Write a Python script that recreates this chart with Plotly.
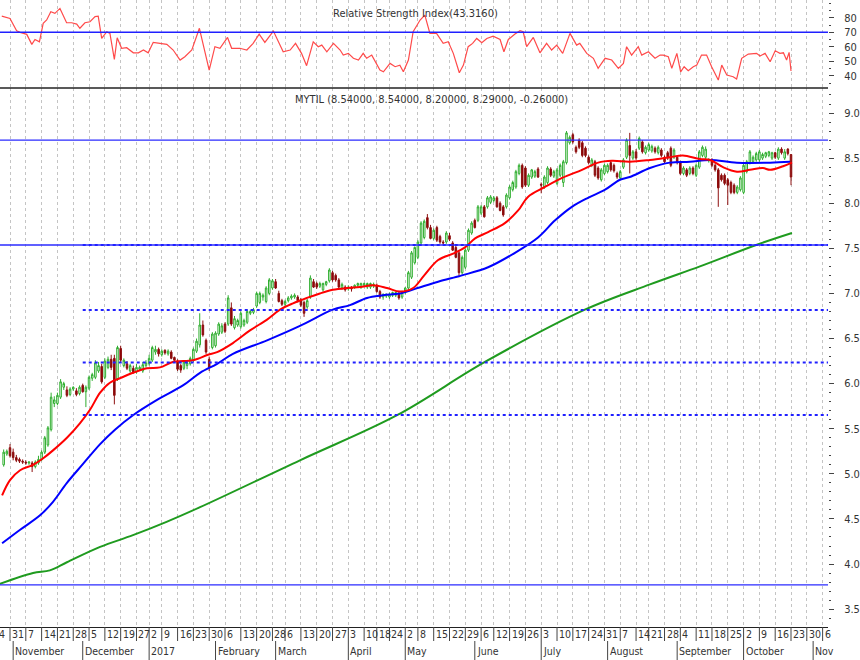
import plotly.graph_objects as go

# ---------------- data ----------------
first_day = -2  # trading-day index of first candle (0 = 31 Oct 2016)

open_ = [5.10,5.22,5.29,5.24,5.18,5.16,5.14,5.13,5.12,5.12,
 5.08,5.12,5.16,5.24,5.32,5.49,5.78,5.78,5.85,5.96,
 5.93,5.88,5.94,5.92,5.89,5.98,5.91,5.95,6.06,6.07,
 6.14,6.19,6.07,6.18,6.27,6.28,6.05,6.39,6.20,6.22,
 6.14,6.17,6.13,6.16,6.14,6.20,6.22,6.26,6.35,6.38,
 6.32,6.37,6.33,6.35,6.29,6.25,6.20,6.17,6.20,6.22,
 6.26,6.36,6.43,6.65,6.48,6.27,6.40,6.42,6.55,6.57,
 6.66,6.66,6.84,6.62,6.65,6.63,6.65,6.68,6.78,6.79,
 6.86,6.90,6.96,6.91,7.00,7.06,7.13,7.00,6.92,6.88,
 6.92,6.95,6.96,6.96,6.93,6.90,6.85,6.96,7.13,7.11,
 7.08,7.04,7.10,7.14,7.23,7.20,7.15,7.06,7.07,7.05,
 7.07,7.07,7.09,7.07,7.09,7.07,7.07,7.08,7.09,7.02,
 6.96,6.97,6.96,6.98,6.98,7.00,6.96,7.01,7.06,7.18,
 7.34,7.40,7.56,7.62,7.84,7.73,7.61,7.73,7.63,7.57,
 7.57,7.64,7.56,7.51,7.45,7.23,7.29,7.48,7.67,7.81,
 7.81,7.89,7.96,7.96,8.01,8.03,8.06,8.00,7.96,7.96,
 8.06,8.15,8.18,8.33,8.42,8.39,8.20,8.29,8.30,8.38,
 8.21,8.18,8.23,8.38,8.30,8.22,8.31,8.23,8.45,8.67,
 8.76,8.62,8.70,8.67,8.61,8.51,8.42,8.46,8.39,8.26,
 8.33,8.35,8.45,8.42,8.33,8.28,8.40,8.51,8.64,8.50,
 8.57,8.61,8.68,8.56,8.59,8.58,8.61,8.56,8.59,8.51,
 8.56,8.61,8.51,8.51,8.45,8.33,8.37,8.33,8.39,8.31,
 8.40,8.53,8.51,8.47,8.48,8.42,8.37,8.31,8.31,8.26,
 8.23,8.20,8.12,8.15,8.12,8.35,8.45,8.46,8.48,8.48,
 8.50,8.52,8.53,8.50,8.56,8.50,8.60,8.50,8.60,8.54]

high = [5.27,5.27,5.33,5.28,5.21,5.18,5.16,5.15,5.14,5.14,
 5.15,5.20,5.26,5.42,5.53,5.90,5.86,5.90,6.05,6.02,
 5.97,5.96,5.97,5.95,5.98,6.00,5.98,6.09,6.12,6.26,
 6.24,6.22,6.28,6.30,6.32,6.32,6.42,6.42,6.28,6.25,
 6.22,6.20,6.22,6.20,6.24,6.26,6.32,6.42,6.42,6.40,
 6.38,6.38,6.38,6.37,6.30,6.27,6.22,6.26,6.26,6.30,
 6.40,6.50,6.78,6.70,6.50,6.30,6.57,6.58,6.68,6.67,
 6.68,6.98,6.90,6.75,6.72,6.80,6.72,6.82,6.82,6.84,
 7.02,7.02,7.00,7.08,7.17,7.16,7.16,7.03,6.94,6.93,
 6.97,6.99,7.00,6.98,6.95,6.92,6.94,7.20,7.16,7.13,
 7.13,7.12,7.14,7.28,7.25,7.22,7.17,7.12,7.09,7.09,
 7.08,7.10,7.12,7.12,7.12,7.12,7.12,7.12,7.11,7.04,
 7.00,7.00,7.01,7.02,7.02,7.02,7.03,7.07,7.25,7.47,
 7.52,7.59,7.80,7.82,7.88,7.76,7.72,7.75,7.65,7.59,
 7.69,7.67,7.58,7.53,7.47,7.42,7.50,7.72,7.80,7.83,
 7.98,7.98,7.98,8.08,8.09,8.08,8.08,8.02,7.98,8.11,
 8.20,8.25,8.37,8.44,8.44,8.41,8.33,8.38,8.37,8.40,
 8.23,8.31,8.41,8.40,8.37,8.39,8.44,8.48,8.80,8.75,
 8.78,8.64,8.72,8.69,8.63,8.53,8.50,8.48,8.41,8.39,
 8.44,8.44,8.47,8.44,8.35,8.37,8.50,8.72,8.78,8.59,
 8.60,8.74,8.70,8.64,8.67,8.65,8.63,8.64,8.61,8.53,
 8.58,8.63,8.61,8.53,8.47,8.41,8.39,8.41,8.41,8.44,
 8.59,8.64,8.63,8.50,8.50,8.44,8.39,8.33,8.33,8.28,
 8.25,8.22,8.20,8.30,8.44,8.48,8.59,8.53,8.57,8.59,
 8.56,8.57,8.58,8.57,8.57,8.62,8.62,8.60,8.61,8.54]

low = [5.08,5.20,5.18,5.15,5.13,5.12,5.11,5.10,5.10,5.02,
 5.06,5.10,5.14,5.22,5.30,5.47,5.74,5.76,5.83,5.93,
 5.85,5.86,5.92,5.86,5.87,5.90,5.74,5.93,6.03,6.05,
 6.12,6.00,6.05,6.16,6.15,5.77,6.03,6.24,6.18,6.15,
 6.12,6.11,6.11,6.14,6.12,6.18,6.20,6.24,6.32,6.30,
 6.30,6.32,6.31,6.27,6.24,6.14,6.12,6.15,6.16,6.20,
 6.24,6.34,6.40,6.52,6.33,6.14,6.38,6.40,6.53,6.55,
 6.56,6.64,6.64,6.60,6.63,6.61,6.63,6.66,6.76,6.77,
 6.84,6.88,6.92,6.89,6.98,7.04,7.05,6.90,6.86,6.86,
 6.90,6.93,6.94,6.90,6.85,6.74,6.83,6.94,7.06,7.05,
 7.06,7.02,7.08,7.12,7.13,7.13,7.05,7.04,7.02,7.03,
 7.02,7.05,7.07,7.05,7.07,7.05,7.05,7.06,7.01,6.94,
 6.93,6.95,6.94,6.96,6.96,6.93,6.94,6.99,7.04,7.16,
 7.32,7.38,7.54,7.60,7.71,7.60,7.59,7.57,7.55,7.54,
 7.55,7.58,7.47,7.39,7.18,7.21,7.27,7.46,7.65,7.72,
 7.79,7.87,7.84,7.94,7.99,8.01,7.95,7.91,7.85,7.94,
 8.04,8.13,8.16,8.31,8.16,8.18,8.18,8.27,8.28,8.28,
 8.11,8.16,8.21,8.29,8.28,8.20,8.29,8.18,8.43,8.65,
 8.66,8.55,8.60,8.51,8.51,8.43,8.40,8.29,8.26,8.24,
 8.31,8.33,8.35,8.34,8.27,8.26,8.38,8.49,8.33,8.48,
 8.48,8.59,8.55,8.54,8.57,8.56,8.55,8.54,8.51,8.44,
 8.48,8.40,8.49,8.43,8.31,8.31,8.29,8.31,8.31,8.29,
 8.38,8.51,8.49,8.45,8.40,8.35,7.96,8.24,8.20,7.98,
 8.10,8.10,8.10,8.13,8.10,8.33,8.43,8.44,8.46,8.46,
 8.48,8.50,8.51,8.48,8.49,8.48,8.54,8.48,8.53,8.20]

close = [5.24,5.25,5.20,5.18,5.15,5.14,5.13,5.12,5.13,5.08,
 5.13,5.16,5.24,5.40,5.51,5.85,5.82,5.87,6.02,6.00,
 5.87,5.94,5.96,5.88,5.96,5.91,5.96,6.07,6.10,6.23,
 6.20,6.02,6.25,6.27,6.18,5.87,6.40,6.26,6.26,6.17,
 6.20,6.13,6.18,6.18,6.21,6.23,6.28,6.40,6.38,6.33,
 6.36,6.34,6.36,6.28,6.26,6.16,6.15,6.24,6.23,6.28,
 6.38,6.47,6.65,6.54,6.35,6.18,6.55,6.56,6.66,6.64,
 6.58,6.95,6.66,6.72,6.70,6.78,6.70,6.80,6.80,6.82,
 7.00,7.00,6.98,7.06,7.15,7.14,7.06,6.91,6.88,6.91,
 6.95,6.97,6.98,6.92,6.87,6.78,6.92,7.17,7.07,7.07,
 7.11,7.11,7.13,7.26,7.15,7.15,7.07,7.10,7.04,7.07,
 7.05,7.09,7.11,7.11,7.11,7.11,7.11,7.10,7.02,6.96,
 6.99,6.99,6.99,7.01,7.01,6.95,7.01,7.06,7.23,7.45,
 7.51,7.57,7.78,7.80,7.73,7.61,7.70,7.59,7.57,7.56,
 7.67,7.60,7.48,7.40,7.23,7.40,7.48,7.70,7.78,7.73,
 7.96,7.96,7.85,8.06,8.07,8.06,7.96,7.92,7.87,8.09,
 8.18,8.23,8.35,8.42,8.18,8.20,8.31,8.37,8.35,8.29,
 8.20,8.29,8.39,8.31,8.35,8.37,8.42,8.46,8.78,8.73,
 8.68,8.57,8.62,8.53,8.53,8.45,8.48,8.31,8.28,8.37,
 8.42,8.42,8.37,8.36,8.29,8.35,8.48,8.70,8.53,8.57,
 8.50,8.72,8.57,8.62,8.65,8.63,8.57,8.62,8.53,8.46,
 8.50,8.42,8.59,8.45,8.33,8.39,8.31,8.39,8.33,8.42,
 8.57,8.62,8.60,8.48,8.42,8.37,8.17,8.26,8.22,8.20,
 8.12,8.12,8.18,8.28,8.42,8.46,8.57,8.51,8.55,8.57,
 8.54,8.56,8.57,8.56,8.51,8.60,8.56,8.57,8.55,8.29]

# moving averages: (trading-day index, value)
ma_red_day = [-2.5,0,3.2,7.3,10.4,13.6,18,22.1,25.3,28.5,31.6,34.8,38.9,43.3,47.4,51.5,57.9,62.6,65.5,70.5,75.9,81.3,85.4,89.5,93.9,98,102.1,106.6,110.7,114.8,119.2,123.3,127.5,131,135.4,140.7,143.9,147.1,151.2,156.5,160.7,163.8,169.2,174.6,180.9,186,190.4,196,202.4,208.7,212.8,218.2,221.4,225.5,229.9,234,238.1,240.4,244.5,247.3]
ma_red = [4.76,4.93,5.04,5.10,5.17,5.26,5.40,5.56,5.71,5.90,6.01,6.06,6.12,6.17,6.18,6.24,6.26,6.32,6.35,6.45,6.59,6.71,6.82,6.89,6.95,7.00,7.04,7.06,7.07,7.09,7.06,7.02,7.06,7.20,7.37,7.45,7.51,7.61,7.68,7.78,7.92,8.07,8.18,8.28,8.37,8.45,8.47,8.46,8.48,8.51,8.53,8.49,8.48,8.40,8.35,8.37,8.39,8.37,8.41,8.45]

ma_blue_day = [-2.5,3.2,9.5,13.6,18,23.1,28.5,33.2,38.9,46.5,54.7,60.1,65.5,70.5,81.3,91.7,102.1,107.5,112.9,118,123.3,128.1,135.4,142.9,151.2,159.7,167,172.4,177.7,182.8,188.2,192.9,196,202.4,208.7,215,221.4,229.9,240.4,246.7]
ma_blue = [4.23,4.38,4.54,4.69,4.90,5.11,5.33,5.49,5.65,5.82,5.98,6.12,6.22,6.33,6.48,6.64,6.82,6.87,6.95,6.98,7.00,7.05,7.13,7.20,7.29,7.45,7.62,7.81,7.96,8.06,8.15,8.26,8.29,8.39,8.45,8.46,8.48,8.45,8.45,8.46]

ma_green_day = [-3.2,7.3,12.6,18,28.5,38.9,49.7,60.1,91.7,122.4,150.2,181.8,202.4,218.2,236.2,247.3]
ma_green = [3.78,3.90,3.93,4.02,4.19,4.32,4.47,4.63,5.15,5.65,6.24,6.82,7.10,7.30,7.54,7.67]

rsi_day = [-2.6,0,2.1,3.2,5.3,6.9,7.9,9.3,10.5,11.6,12.9,14.2,15.8,17.9,19.5,21.1,22.1,23.7,25.3,26.9,
 27.9,29,30.6,31.6,33,33.9,35.3,36.9,39,40.6,42.2,43.7,45.3,47.4,49.6,51.6,53.8,55.3,57.5,59.9,
 61.7,63,64.8,66.4,68.8,70.1,72.7,74.9,76.9,78.8,80.6,82,83.3,86.4,88.6,90.3,92.2,93.8,95.9,97.5,
 98.6,100.2,102.3,104.4,105.4,107,108.6,110.2,111.7,112.8,114.4,117,118.1,120.2,121.8,123.3,124.4,126,127.5,129.7,
 131.2,132.8,134.9,137,138.6,140.2,142.1,143.4,144.9,146.3,147.6,149.2,150.8,152.8,155,156.2,157.6,159.7,161.3,162.3,
 163.4,165.5,167.6,169.7,171.3,172.9,174.8,177.1,179.2,180.2,182.4,184.5,186,188.2,190.3,192.4,194,195,196.6,198.7,
 199.8,201.9,204,205.6,206.6,208.2,209.3,210.9,212.1,213.2,214.5,216.1,217.2,218.7,220.3,221.9,224,225.1,226.7,228.7,
 229.8,231.4,233.5,236.1,237.2,238.8,240.4,242,243.5,244.6,245.6,246.4,247]
rsi = [81.2,79.6,71.1,70,68.6,61.7,65.1,63.5,76.2,78.5,84.2,83.1,86.5,76.6,76.6,75.7,72.8,76.6,77.3,80.8,
 81.2,65.8,70.4,69.3,51.4,66.3,59.0,59.4,55.9,55.9,57.8,55.9,63.1,62.4,61.7,57.8,50.9,53.2,57.8,72.8,
 55.5,44.0,60.1,59.0,66.5,59.0,59.0,57.8,62.4,68.8,63.1,67.0,70.9,56.6,57.8,62.4,55.5,47.0,63.5,60.1,
 61.2,56.6,62.4,57.8,54.3,55.5,52.1,50.9,55.5,52.1,54.3,44.0,42.8,48.6,46.3,47.4,42.8,50.9,70.4,78.5,
 81.9,69.3,69.3,62.4,63.5,55.5,42.1,47.4,60.1,62.4,65.8,62.8,65.8,67.4,65.1,56.6,65.1,68.8,71.1,70.4,
 60.1,66.5,55.9,62.4,57.8,61.2,55.5,69.3,61.2,62.4,55.5,52.1,45.2,52.1,50.9,45.2,48.6,60.1,54.3,60.1,
 54.3,56.6,52.1,54.3,54.3,53.2,45.2,55.5,42.8,46.3,43.5,46.3,47.4,54.3,54.3,46.3,37.1,47.4,40.6,39.4,
 37.8,52.1,55.0,55.5,53.7,55.5,49.7,57.3,55.5,55.9,50.9,56.2,43.3]

# Fibonacci levels (high / low and retracements) and RSI guide
fib_solid = [8.70, 7.537, 3.77]
fib_dotted = [7.537, 6.817, 6.235, 5.653]
fib_dotted_start = 23
rsi_guide = 70

# axis labels (trading-day index of each week start / month start)
week_idx = [-4,0,5,10,15,20,25,30,35,40,44,48,53,58,63,68,73,78,83,87,92,97,102,107,112,116,120,125,129,134,139,144,
            149,153,158,163,168,173,178,183,188,193,198,202,207,212,217,222,227,232,237,242,247,252,257]
week_lbl = ["24","31","7","14","21","28","5","12","19","27","2","9","16","23","30","6","13","20","28","6","13","20","27",
            "3","10","18","24","2","8","15","22","29","6","12","19","26","3","10","17","24","31","7","14","21","28",
            "4","11","18","25","2","9","16","23","30","6"]
month_idx = [1,23,44,65,84,107,125,147,168,189,211,232,254]
month_lbl = ["November","December","2017","February","March","April","May","June","July","August","September","October","Nov"]

title_rsi = "Relative Strength Index(43.3160)"
title_main = "MYTIL (8.54000, 8.54000, 8.20000, 8.29000, -0.26000)"

assert len(open_) == len(high) == len(low) == len(close) == 250
assert len(rsi_day) == len(rsi)
day = list(range(first_day, first_day + len(close)))

# ---------------- figure ----------------
FONT = "DejaVu Sans Condensed, Liberation Sans Narrow, Arial Narrow, Roboto Condensed, Liberation Sans, sans-serif"
XMIN, XMAX = -3.163, 258.7
SPLIT = 0.8596

fig = go.Figure()
fig.add_trace(go.Candlestick(
    x=day, open=open_, high=high, low=low, close=close,
    increasing=dict(line=dict(color="#2fae2f", width=1), fillcolor="#ffffff"),
    decreasing=dict(line=dict(color="#8e1010", width=1), fillcolor="#8b0000"),
    whiskerwidth=0, hoverinfo="skip", xaxis="x", yaxis="y"))
fig.add_trace(go.Scatter(x=ma_green_day, y=ma_green, mode="lines", line=dict(color="#1f9b1f", width=2, shape="spline"), xaxis="x", yaxis="y"))
fig.add_trace(go.Scatter(x=ma_blue_day, y=ma_blue, mode="lines", line=dict(color="#0000ff", width=2, shape="spline"), xaxis="x", yaxis="y"))
fig.add_trace(go.Scatter(x=ma_red_day, y=ma_red, mode="lines", line=dict(color="#ff0000", width=2, shape="spline"), xaxis="x", yaxis="y"))
fig.add_trace(go.Scatter(x=rsi_day, y=rsi, mode="lines", line=dict(color="#ff4a4a", width=1.2), xaxis="x", yaxis="y2"))

shapes = []
for lv in fib_solid:
    shapes.append(dict(type="line", xref="x", yref="y", x0=XMIN, x1=XMAX, y0=lv, y1=lv,
                       line=dict(color="#2b2bff", width=1.3)))
for lv in fib_dotted:
    shapes.append(dict(type="line", xref="x", yref="y", x0=fib_dotted_start, x1=XMAX, y0=lv, y1=lv,
                       line=dict(color="#2020ff", width=2, dash="dot")))
shapes.append(dict(type="line", xref="x", yref="y2", x0=XMIN, x1=XMAX, y0=rsi_guide, y1=rsi_guide,
                   line=dict(color="#2020ff", width=1.5)))
# panel separator
shapes.append(dict(type="line", xref="paper", yref="paper", x0=0, x1=1, y0=SPLIT, y1=SPLIT,
                   line=dict(color="#222222", width=1.5)))
# bottom date scale
ROW1 = -14 / 627
ROW2 = -33 / 627
for i in week_idx:
    if i < XMIN:
        continue
    shapes.append(dict(type="line", xref="x", yref="paper", x0=i, x1=i, y0=0, y1=ROW1,
                       line=dict(color="#444444", width=1)))
for i in month_idx:
    shapes.append(dict(type="line", xref="x", yref="paper", x0=i, x1=i, y0=ROW1, y1=ROW2,
                       line=dict(color="#444444", width=1)))

lab_font = dict(family=FONT, size=10.5, color="#333333")
annotations = []
for i, t in zip(week_idx, week_lbl):
    if i < XMIN:
        annotations.append(dict(x=XMIN + 0.05, y=-7 / 627, xref="x", yref="paper", text=t, showarrow=False,
                                xanchor="left", yanchor="middle", xshift=-9, font=lab_font))
    else:
        annotations.append(dict(x=i, y=-7 / 627, xref="x", yref="paper", text=t, showarrow=False,
                                xanchor="left", yanchor="middle", xshift=0, font=lab_font))
for i, t in zip(month_idx, month_lbl):
    annotations.append(dict(x=i, y=-24 / 627, xref="x", yref="paper", text=t, showarrow=False,
                            xanchor="left", yanchor="middle", xshift=0, font=lab_font))
title_font = dict(family=FONT, size=11, color="#333333")
annotations.append(dict(x=415 / 828, y=(627 - 13) / 627, xref="paper", yref="paper", text=title_rsi,
                        showarrow=False, xanchor="center", yanchor="middle", font=title_font))
annotations.append(dict(x=431 / 828, y=(627 - 100) / 627, xref="paper", yref="paper", text=title_main,
                        showarrow=False, xanchor="center", yanchor="middle", font=title_font))

tickfont = dict(family=FONT, size=11, color="#333333")
fig.update_layout(
    width=860, height=660, margin=dict(l=0, r=32, t=0, b=33),
    paper_bgcolor="white", plot_bgcolor="white", showlegend=False,
    xaxis=dict(range=[XMIN, XMAX], domain=[0, 1], anchor="y", showticklabels=False, ticks="",
               tickmode="array", tickvals=[v for v in week_idx if v >= 0],
               showgrid=True, gridcolor="#c4c4c4", gridwidth=1, griddash="3px,3px",
               zeroline=False, showline=True, linecolor="#222222", linewidth=1,
               rangeslider=dict(visible=False), fixedrange=True),
    yaxis=dict(domain=[0, SPLIT], range=[3.302, 9.277], side="right", anchor="x",
               tick0=0, dtick=0.5, tickformat=".1f", ticks="outside", ticklen=5, tickcolor="#444444",
               ticklabelstandoff=8, tickfont=tickfont, showgrid=False, zeroline=False, showline=False,
               minor=dict(tick0=0, dtick=0.1, ticks="outside", ticklen=2, tickcolor="#444444", showgrid=False)),
    yaxis2=dict(domain=[SPLIT, 1], range=[31.6, 92.3], side="right", anchor="x",
                tickvals=[40, 50, 60, 70, 80], ticks="outside", ticklen=5, tickcolor="#444444",
                ticklabelstandoff=8, tickfont=tickfont, showgrid=False, zeroline=False, showline=False,
                minor=dict(tick0=0, dtick=5, ticks="outside", ticklen=2, tickcolor="#444444", showgrid=False)),
    shapes=shapes, annotations=annotations,
)

fig.write_html("out.html", config={"displayModeBar": False},
               post_script="document.body.style.margin='0px';document.body.style.overflow='hidden';")
